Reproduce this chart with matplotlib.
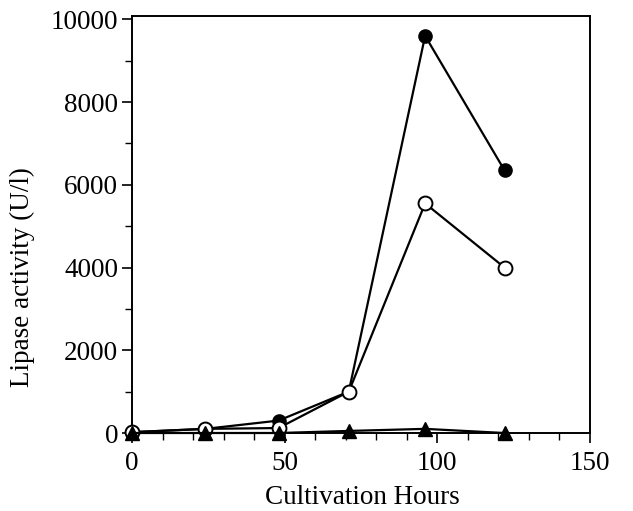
import matplotlib
matplotlib.use("Agg")
import matplotlib.pyplot as plt
from matplotlib.ticker import MultipleLocator

hours = [0, 24, 48, 71, 96, 122]
filled_circle = [20, 100, 300, 1000, 9600, 6350]
open_circle = [20, 100, 120, 1000, 5550, 4000]
triangle = [0, 0, 0, 50, 100, 0]

xticks = [0, 50, 100, 150]
yticks = [0, 2000, 4000, 6000, 8000, 10000]

plt.rcParams['font.family'] = ['Liberation Serif', 'DejaVu Serif']

fig = plt.figure(figsize=(6.33, 5.11), dpi=100)
ax = fig.add_axes([132/633, 1-433/511, (590-132)/633, (433-16)/511])

ax.plot(hours, filled_circle, color='black', lw=1.6, marker='o', ms=9.5,
        mfc='black', mec='black', zorder=3, clip_on=False)
ax.plot(hours, open_circle, color='black', lw=1.6, marker='o', ms=10,
        mfc='white', mec='black', mew=1.4, zorder=4, clip_on=False)
ax.plot(hours, triangle, color='black', lw=1.6, marker='^', ms=10,
        mfc='black', mec='black', zorder=5, clip_on=False)

ax.set_xlim(0, 150)
ax.set_ylim(0, 10080)
ax.set_xticks(xticks)
ax.set_yticks(yticks)
ax.xaxis.set_minor_locator(MultipleLocator(10))
ax.yaxis.set_minor_locator(MultipleLocator(1000))
ax.tick_params(axis='both', which='major', direction='out', length=7, width=1.2,
               labelsize=19.5, colors='black')
ax.tick_params(axis='both', which='minor', direction='out', length=5, width=1.0)
ax.tick_params(axis='y', which='major', pad=3)
ax.tick_params(axis='x', which='major', pad=6)
ax.tick_params(top=False, right=False, which='both')
for s in ax.spines.values():
    s.set_linewidth(1.4)
    s.set_color('black')

fig.text(362/633, 1/511, 'Cultivation Hours', ha='center', va='bottom', fontsize=19.5)
fig.text(22/633, 1-277/511, 'Lipase activity (U/l)', ha='center', va='center',
         rotation=90, fontsize=19.5)

fig.savefig('out.png', dpi=100)
